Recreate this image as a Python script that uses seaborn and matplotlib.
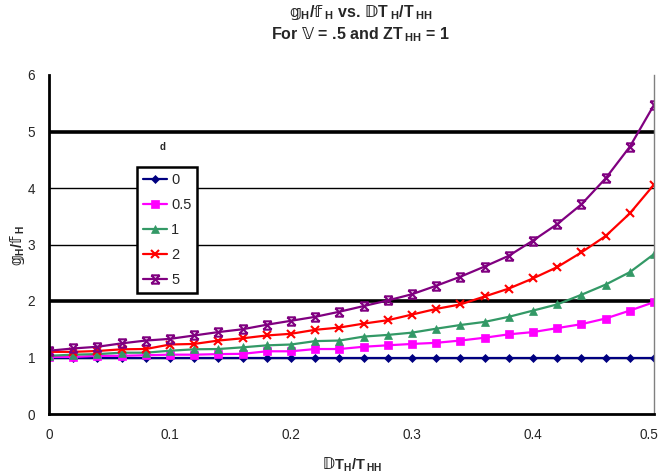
import numpy as np
import pandas as pd
import matplotlib
matplotlib.use("Agg")
import matplotlib.pyplot as plt
import matplotlib.transforms as mtransforms
from matplotlib.path import Path
import seaborn as sns

x_vals = [0.00, 0.02, 0.04, 0.06, 0.08, 0.10, 0.12, 0.14, 0.16, 0.18, 0.20, 0.22, 0.24,
          0.26, 0.28, 0.30, 0.32, 0.34, 0.36, 0.38, 0.40, 0.42, 0.44, 0.46, 0.48, 0.50]

d0 = [1.00] * 26
d05 = [1.01, 1.01, 1.03, 1.03, 1.04, 1.05, 1.05, 1.06, 1.065, 1.11, 1.11, 1.15, 1.15,
       1.19, 1.216, 1.24, 1.26, 1.30, 1.35, 1.41, 1.45, 1.52, 1.59, 1.69, 1.83, 1.98]
d1 = [1.03, 1.05, 1.06, 1.085, 1.085, 1.12, 1.145, 1.15, 1.18, 1.215, 1.23, 1.29, 1.30,
      1.37, 1.40, 1.44, 1.51, 1.575, 1.63, 1.72, 1.83, 1.94, 2.11, 2.29, 2.51, 2.83]
d2 = [1.10, 1.10, 1.115, 1.145, 1.15, 1.23, 1.24, 1.30, 1.34, 1.39, 1.42, 1.49, 1.53,
      1.60, 1.66, 1.76, 1.86, 1.94, 2.08, 2.22, 2.40, 2.60, 2.86, 3.15, 3.55, 4.06]
d5 = [1.12, 1.16, 1.19, 1.25, 1.30, 1.33, 1.39, 1.45, 1.50, 1.58, 1.65, 1.72, 1.81,
      1.91, 2.01, 2.12, 2.27, 2.43, 2.61, 2.80, 3.07, 3.36, 3.71, 4.17, 4.73, 5.47]

labels = ["0", "0.5", "1", "2", "5"]
series = [d0, d05, d1, d2, d5]
colors = ["#000080", "#FF00FF", "#339966", "#FF0000", "#800080"]

star = Path([(-1, -1), (1, 1), (-1, 1), (1, -1), (-1, 1), (1, 1), (-1, -1), (1, -1)],
            [Path.MOVETO, Path.LINETO, Path.MOVETO, Path.LINETO,
             Path.MOVETO, Path.LINETO, Path.MOVETO, Path.LINETO])
markers = ["D", "s", "^", "x", star]
msizes = [4, 6, 6, 6, 6]

sns.set_style("white")
plt.rcParams["font.family"] = ["Liberation Sans", "DejaVu Sans"]
plt.rcParams["mathtext.fontset"] = "custom"
plt.rcParams["mathtext.rm"] = "Liberation Sans"
plt.rcParams["mathtext.bf"] = "Liberation Sans:bold"
plt.rcParams["mathtext.sf"] = "DejaVu Sans:bold"

fig = plt.figure(figsize=(6.61, 4.76), dpi=100)
ax = fig.add_axes([49 / 661, 1 - 414 / 476, 605 / 661, 339 / 476])

for lab, vals, col, mk, ms in zip(labels, series, colors, markers, msizes):
    df = pd.DataFrame({"x": x_vals, "y": vals})
    sns.lineplot(data=df, x="x", y="y", ax=ax, color=col, marker=mk, markersize=ms,
                 markeredgecolor=col, markerfacecolor=col,
                 markeredgewidth=1.5 if (mk == "x" or mk is star) else 0.5,
                 linewidth=1.6, label=lab)

ax.set_xlim(0, 0.5)
ax.set_ylim(0, 6)
ax.set_xticks([0, 0.1, 0.2, 0.3, 0.4, 0.5])
ax.set_xticklabels(["0", "0.1", "0.2", "0.3", "0.4", "0.5"])
ax.set_yticks([0, 1, 2, 3, 4, 5, 6])
ax.tick_params(axis="both", direction="out", length=4, width=1.8, labelsize=9.8, pad=6, color="black")

last = ax.get_xticklabels()[-1]
last.set_transform(last.get_transform() + mtransforms.ScaledTranslation(-5 / 100, 0, fig.dpi_scale_trans))

ax.set_axisbelow(True)
ax.grid(axis="y", color="black", linewidth=1.0)
ax.grid(axis="x", visible=False)
gl = ax.get_ygridlines()
for i, g in enumerate(gl):
    if i in (2, 5):
        g.set_linewidth(2.6)
    if i in (0, 6):
        g.set_visible(False)

for s in ("left", "bottom"):
    ax.spines[s].set_color("black")
    ax.spines[s].set_linewidth(2.0)
ax.spines["top"].set_visible(False)
ax.spines["right"].set_color("#808080")
ax.spines["right"].set_linewidth(1.0)

leg = ax.legend(loc="upper left", bbox_to_anchor=(0.145, 0.729), borderaxespad=0,
                frameon=True, fancybox=False, fontsize=10.5, handlelength=1.65,
                handletextpad=0.3, labelspacing=0.76, borderpad=0.4)
leg.get_frame().set_edgecolor("black")
leg.get_frame().set_linewidth(1.8)
leg.get_frame().set_facecolor("white")
leg.get_frame().set_alpha(1)

fig.text(163 / 661, 1 - 147 / 476, "d", fontsize=7, fontweight="bold", ha="center", va="center")

G = r"$\mathsf{𝕘}$"
F = r"$\mathsf{𝕗}$"
D = r"$\mathsf{𝔻}$"
V = r"$\mathsf{𝕍}$"
sH = r"$_\mathbf{H}$"
sH2 = r"$\,_\mathbf{H}$"
sHH = r"$\,_\mathbf{HH}$"

fig.text(361 / 661, 1 - 13 / 476, G + sH + "/" + F + sH2 + " vs. " + D + "T" + sH2 + "/T" + sHH,
         ha="center", va="center", fontsize=11.5, fontweight="bold")
fig.text(361 / 661, 1 - 35 / 476, "For " + V + " = .5 and ZT" + sHH + " = 1",
         ha="center", va="center", fontsize=11.5, fontweight="bold")

ax.set_xlabel(D + "T" + sH + "/T" + sHH, fontsize=10.5, fontweight="bold")
ax.xaxis.set_label_coords((352 - 49) / 605, (414 - 455) / 339)
ax.set_ylabel(G + sH + "/" + F + sH2, fontsize=10.5, fontweight="bold")
ax.yaxis.set_label_coords((27 - 49) / 605, (414 - 245) / 339)

fig.savefig("out.png", dpi=100)
